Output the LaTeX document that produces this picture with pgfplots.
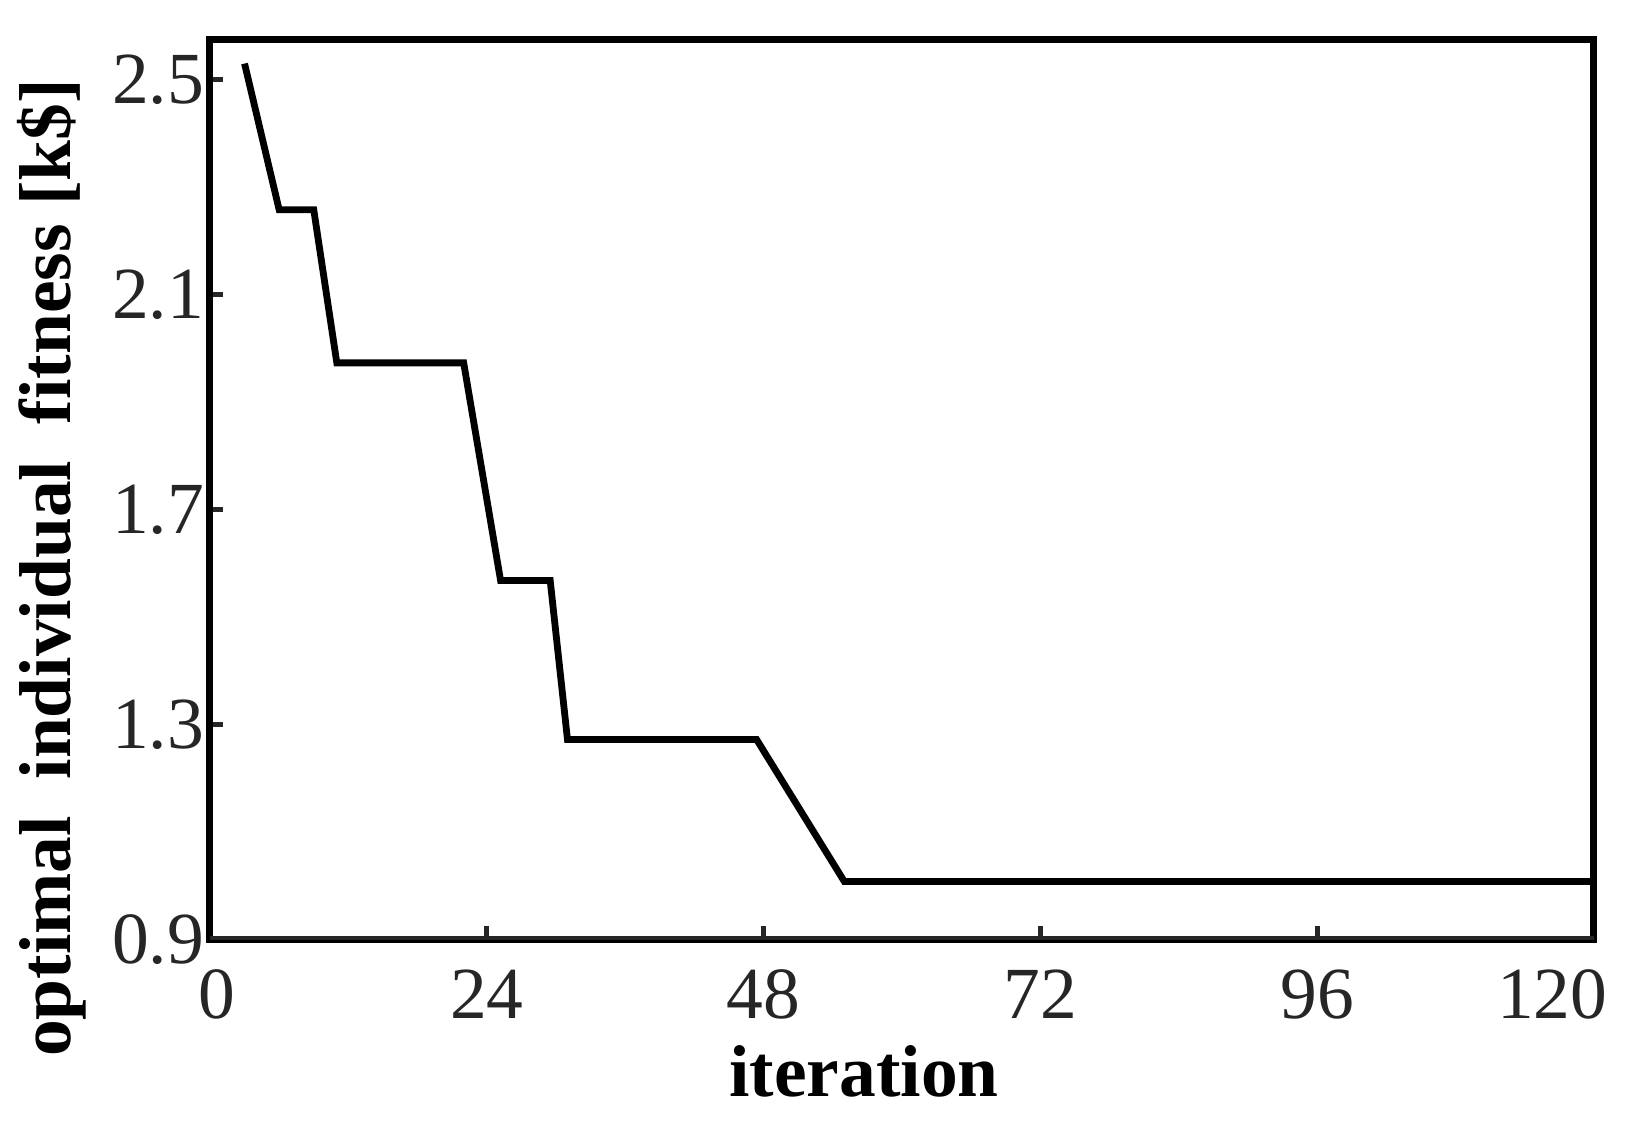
\documentclass[border=0pt]{standalone}
\usepackage{pgfplots}
\pgfplotsset{compat=1.18}
\usepackage{fontspec}
\setmainfont{Liberation Serif}
\definecolor{tickgray}{HTML}{262626}

\begin{document}
\begin{tikzpicture}
\begin{axis}[
    scale only axis,
    width=13.57cm,
    height=8.82cm,
    xmin=0, xmax=120,
    ymin=0.9, ymax=2.574,
    xtick={0,24,48,72,96,120},
    xticklabels={\rule{0.14cm}{0pt}0,24,48,72,96,120\rule{0.82cm}{0pt}},
    ytick={0.9,1.3,1.7,2.1,2.5},
    yticklabels={0.9,1.3,1.7,2.1,2.5},
    tick pos=left,
    tick align=inside,
    major tick length=0.13cm,
    every tick/.style={tickgray, line width=1.4pt},
    axis line style={black, line width=1.95pt},
    /pgf/number format/assume math mode=true,
    ticklabel style={font=\fontsize{20.5}{24}\selectfont, text=tickgray},
    xticklabel style={yshift=-5pt},
    yticklabel style={xshift=1.9pt},
    xlabel={\textbf{iteration}},
    ylabel={\textbf{optimal\ \ individual\ \ fitness [k\$]}},
    label style={font=\fontsize{20.5}{24}\selectfont},
    xlabel style={at={(axis description cs:0.4725,-0.147)}, anchor=center},
    ylabel style={at={(axis description cs:-0.114,0.413)}, anchor=center},
]
\addplot[black, line width=1.9pt] coordinates {
    (3,2.53) (6,2.258) (9,2.258) (11,1.973) (22,1.973) (25.2,1.568)
    (29.5,1.568) (31,1.272) (47.4,1.272) (55,1.008) (120,1.008)
};
\draw[tickgray, line width=1.95pt] (rel axis cs:0,0) -- (rel axis cs:1,0);
\coordinate (bbsw) at (rel axis cs:-0.1517,-0.2122);
\coordinate (bbne) at (rel axis cs:1.0275,1.0444);
\end{axis}
\pgfresetboundingbox
\path[use as bounding box] (bbsw) rectangle (bbne);
\end{tikzpicture}
\end{document}
